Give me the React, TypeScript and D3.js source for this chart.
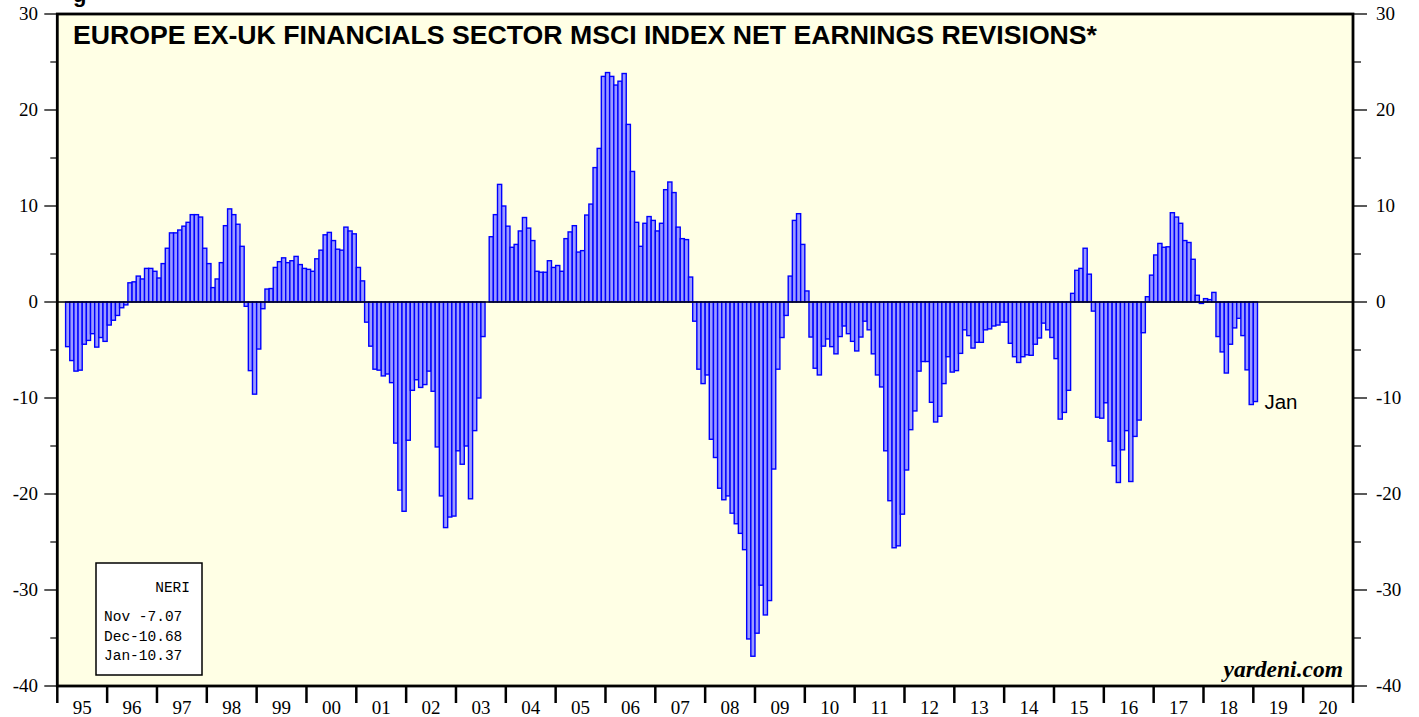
import * as d3 from "d3"

// NERI, monthly, starting Mar 1995 (last point Jan 2019)
const neri1995 = [-4.65, -6.1, -7.2, -7.1, -4.4, -4.0, -3.3, -4.7, -3.7, -4.1]
const neri1996 = [-2.4, -1.9, -1.4, -0.6, -0.3, 2.0, 2.1, 2.7, 2.4, 3.5, 3.5, 3.2]
const neri1997 = [2.5, 4.0, 5.6, 7.2, 7.2, 7.5, 7.9, 8.3, 9.1, 9.1, 8.85, 5.6]
const neri1998 = [4.0, 1.5, 2.4, 4.1, 7.95, 9.7, 9.1, 8.1, 5.8, -0.45, -7.15, -9.6]
const neri1999 = [-4.9, -0.7, 1.35, 1.4, 3.6, 4.2, 4.6, 4.1, 4.3, 4.75, 3.9, 3.5]
const neri2000 = [3.4, 3.2, 4.5, 5.4, 7.0, 7.25, 6.4, 5.5, 5.4, 7.8, 7.4, 7.1]
const neri2001 = [3.6, 2.2, -2.1, -4.6, -7.0, -7.1, -7.7, -7.5, -8.4, -14.7, -19.6, -21.8]
const neri2002 = [-14.4, -9.2, -8.1, -8.9, -8.6, -7.2, -9.3, -15.1, -20.2, -23.5, -22.4, -22.3]
const neri2003 = [-15.5, -16.9, -15.0, -20.5, -13.4, -10.0, -3.6, 0, 6.8, 9.1, 12.25, 10.0]
const neri2004 = [7.9, 5.7, 6.0, 7.4, 8.8, 7.7, 6.4, 3.2, 3.1, 3.1, 4.3, 3.6]
const neri2005 = [3.8, 3.2, 6.6, 7.3, 7.95, 5.2, 5.35, 9.06, 10.2, 14.0, 16.0, 23.5]
const neri2006 = [23.9, 23.5, 22.6, 23.0, 23.8, 18.5, 13.6, 8.3, 5.8, 8.2, 8.9, 8.5]
const neri2007 = [7.4, 8.2, 11.7, 12.5, 11.4, 7.8, 6.6, 6.5, 2.6, -2.0, -7.0, -8.5]
const neri2008 = [-7.6, -14.3, -16.2, -19.4, -20.6, -20.2, -22.0, -23.1, -24.1, -25.8, -35.1, -36.9]
const neri2009 = [-34.5, -29.5, -32.6, -31.1, -17.4, -7.0, -3.7, -1.4, 2.7, 8.5, 9.2, 6.0]
const neri2010 = [1.15, -3.65, -6.9, -7.6, -4.6, -3.85, -4.65, -5.4, -3.6, -2.5, -3.3, -4.1]
const neri2011 = [-5.1, -3.65, -2.0, -2.9, -5.4, -7.6, -8.85, -15.5, -20.7, -25.6, -25.4, -22.1]
const neri2012 = [-17.5, -13.3, -11.35, -7.2, -6.2, -6.2, -10.45, -12.5, -11.9, -8.5, -5.7, -7.3]
const neri2013 = [-7.15, -5.35, -2.9, -3.5, -4.8, -4.2, -4.2, -2.9, -2.8, -2.5, -2.4, -2.1]
const neri2014 = [-2.1, -4.3, -5.7, -6.3, -5.7, -5.5, -5.55, -4.4, -3.75, -2.2, -2.9, -3.7]
const neri2015 = [-5.9, -12.2, -11.5, -9.2, 0.9, 3.3, 3.5, 5.6, 2.9, -0.95, -12.0, -12.1]
const neri2016 = [-10.5, -14.5, -17.05, -18.8, -15.4, -13.4, -18.7, -14.0, -12.3, -3.2, 0.55, 2.8]
const neri2017 = [4.9, 6.1, 5.7, 5.75, 9.3, 8.85, 8.2, 6.4, 6.2, 4.45, 0.7, -0.15]
const neri2018 = [0.35, 0.25, 1.0, -3.6, -5.2, -7.4, -4.4, -2.7, -1.7, -3.5, -7.07, -10.68]
const neri2019 = [-10.37]

const startMonth = 2 // March 1995 (months counted from Jan 1995)
const yearLabels = ["95", "96", "97", "98", "99", "00", "01", "02", "03", "04", "05", "06", "07",
  "08", "09", "10", "11", "12", "13", "14", "15", "16", "17", "18", "19", "20"]
const yTicks = [30, 20, 10, 0, -10, -20, -30, -40]
const yMinor = [25, 15, 5, -5, -15, -25, -35]
const legendRows = ["Nov -7.07", "Dec-10.68", "Jan-10.37"]

const title = "EUROPE EX-UK FINANCIALS SECTOR MSCI INDEX NET EARNINGS REVISIONS*"

const values = [
  ...neri1995, ...neri1996, ...neri1997, ...neri1998, ...neri1999, ...neri2000,
  ...neri2001, ...neri2002, ...neri2003, ...neri2004, ...neri2005, ...neri2006,
  ...neri2007, ...neri2008, ...neri2009, ...neri2010, ...neri2011, ...neri2012,
  ...neri2013, ...neri2014, ...neri2015, ...neri2016, ...neri2017, ...neri2018,
  ...neri2019,
]

const W = 1419
const H = 717
const L = 57.3
const R = 1353
const T = 14
const B = 686

const serif = "'Liberation Serif', 'Times New Roman', serif"
const sans = "'Liberation Sans', Arial, sans-serif"
const mono = "'Liberation Mono', 'Courier New', monospace"

export default function App() {
  // x in months since Jan 1995
  const x = d3.scaleLinear().domain([0, yearLabels.length * 12]).range([L, R])
  const y = d3.scaleLinear().domain([-40, 30]).range([B, T])

  const bars = values.map((v, i) => {
    const m = startMonth + i
    return { x0: x(m), x1: x(m + 1), v }
  })
  const last = bars[bars.length - 1]

  return (
    <div>
      <style>{"body{margin:0;background:#fff}"}</style>
      <svg width={W} height={H} style={{ display: "block" }}>
        <rect x={0} y={0} width={W} height={H} fill="#fff" />
        {/* cut-off header glyph */}
        <text x={73} y={2} fontFamily={sans} fontWeight="bold" fontSize={22} fill="#000">g</text>

        <rect x={L} y={T} width={R - L} height={B - T} fill="#ffffe5" />

        <g>
          {bars.map((b, i) => (
            <rect
              key={i}
              x={b.x0}
              y={Math.min(y(b.v), y(0))}
              width={b.x1 - b.x0}
              height={Math.abs(y(b.v) - y(0))}
              fill="#9b9bff"
              stroke="#0000ff"
              strokeWidth={1.4}
            />
          ))}
        </g>

        <line x1={L} x2={R} y1={y(0)} y2={y(0)} stroke="#000" strokeWidth={1.3} />

        {/* frame */}
        <rect x={L} y={T} width={R - L} height={B - T} fill="none" stroke="#000" strokeWidth={2.8} />

        {/* y axis left & right */}
        {yTicks.map((t) => (
          <g key={t}>
            <line x1={L - 13} x2={L} y1={y(t)} y2={y(t)} stroke="#000" strokeWidth={1.3} />
            <line x1={R} x2={R + 14} y1={y(t)} y2={y(t)} stroke="#000" strokeWidth={1.3} />
            <text x={38} y={y(t) + 6} textAnchor="end" fontFamily={serif} fontSize={19} fill="#000">{t}</text>
            <text x={1376} y={y(t) + 6} textAnchor="start" fontFamily={serif} fontSize={19} fill="#000">{t}</text>
          </g>
        ))}
        {yMinor.map((t) => (
          <g key={t}>
            <line x1={L - 7} x2={L} y1={y(t)} y2={y(t)} stroke="#000" strokeWidth={1.2} />
            <line x1={R} x2={R + 8} y1={y(t)} y2={y(t)} stroke="#000" strokeWidth={1.2} />
          </g>
        ))}

        {/* x axis */}
        {yearLabels.map((lab, i) => (
          <g key={lab}>
            <line x1={x(i * 12)} x2={x(i * 12)} y1={B} y2={B + 17} stroke="#000" strokeWidth={2.5} />
            <text x={x(i * 12 + 6)} y={714} textAnchor="middle" fontFamily={serif} fontSize={19} fill="#000">{lab}</text>
          </g>
        ))}
        <line x1={R} x2={R} y1={B} y2={B + 17} stroke="#000" strokeWidth={2.5} />

        {/* title */}
        <text x={73} y={44} fontFamily={sans} fontWeight="bold" fontSize={26.5} textLength={1024} lengthAdjust="spacingAndGlyphs" fill="#000">{title}</text>

        {/* last value label */}
        <text x={last.x1 + 7} y={y(last.v) + 7} fontFamily={sans} fontSize={20.5} fill="#000">Jan</text>

        {/* legend box */}
        <rect x={96} y={563} width={106} height={112} fill="#fff" stroke="#000" strokeWidth={1.5} />
        <text x={190} y={592} textAnchor="end" fontFamily={mono} fontSize={14.5} fill="#000">NERI</text>
        {legendRows.map((r, i) => (
          <text key={r} x={104} y={621 + i * 19.5} fontFamily={mono} fontSize={14.5} fill="#000" xmlSpace="preserve">{r}</text>
        ))}

        <text x={1343} y={677} textAnchor="end" fontFamily={serif} fontStyle="italic" fontWeight="bold" fontSize={23.5} fill="#000">yardeni.com</text>
      </svg>
    </div>
  )
}
